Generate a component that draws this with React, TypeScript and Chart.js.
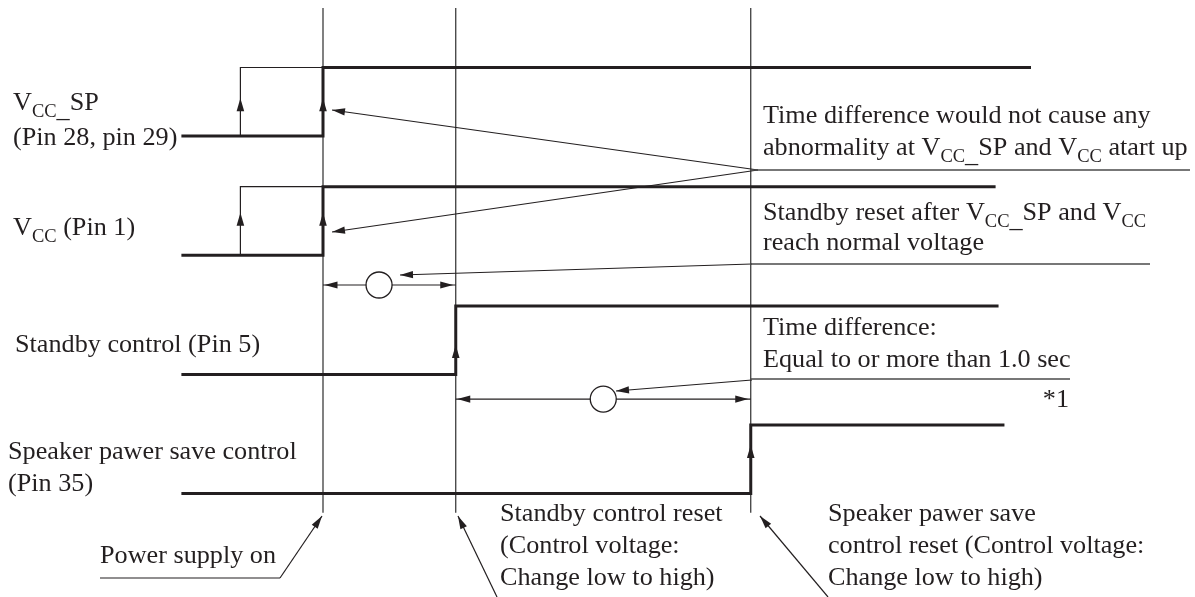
import React, { useEffect, useRef } from "react";
import { Chart, registerables } from "chart.js";

Chart.register(...registerables);

// ---------------- data (times in seconds, levels 0 = low, 1 = high) ----------------
const signalLabels: string[][] = [
  ["V{CC}[_]SP", "(Pin 28, pin 29)"],
  ["V{CC} (Pin 1)"],
  ["Standby control (Pin 5)"],
  ["Speaker pawer save control", "(Pin 35)"],
];
const startTime = -0.48;
const riseTimes = [0, 0, 0.45, 1.45];
const earlyRiseTimes: (number | null)[] = [-0.28, -0.28, null, null];
const endTimes = [2.4, 2.28, 2.29, 2.31];
const lowLevel = 0;
const highLevel = 1;
const markerTimes = [0, 0.45, 1.45];
const intervalStarts = [0, 0.45];
const intervalEnds = [0.45, 1.45];
const intervalCircleTimes = [0.19, 0.95];

const noteTexts: string[][] = [
  ["Time difference would not cause any", "abnormality at V{CC}[_]SP and V{CC} atart up"],
  ["Standby reset after V{CC}[_]SP and V{CC}", "reach normal voltage"],
  ["Time difference:", "Equal to or more than 1.0 sec"],
];
const footnoteText = "*1";
const eventTexts: string[][] = [
  ["Power supply on"],
  ["Standby control reset", "(Control voltage:", "Change low to high)"],
  ["Speaker pawer save", "control reset (Control voltage:", "Change low to high)"],
];

// ---------------- layout ----------------
const W = 1195;
const H = 597;
const PX_PER_SEC = 295;
const T0_PX = 323;
const PX_PER_LEVEL = 68.5;
const ROW0_LOW_PX = 136;
const ROW_GAP = 1.74;
const X_MIN = -T0_PX / PX_PER_SEC;
const X_MAX = (W - T0_PX) / PX_PER_SEC;
const Y_MAX = ROW0_LOW_PX / PX_PER_LEVEL;
const Y_MIN = Y_MAX - H / PX_PER_LEVEL;
const MARKER_TOP = 1.87;
const MARKER_BOTTOM = -5.5;
const INTERVAL_Y = [-2.175, -3.84];
const ARROW_FRAC = [0.55, 0.62, 0.43, 0.71];

const INK = "#231f20";
const THIN = "#2e2e2e";
const FONT = 26.2;
const SUB = 18.5;
const SUB_DY = 7;
const FAMILY = '"Liberation Serif", "Times New Roman", serif';

const signalLabelPos = [
  { x: 13, y: [110, 145] },
  { x: 13, y: [235] },
  { x: 15, y: [352] },
  { x: 8, y: [459, 491] },
];
const notePos = [
  { x: 763, y: [123, 155], line: [750, 1190, 170] },
  { x: 763, y: [220, 250], line: [750, 1150, 264] },
  { x: 763, y: [335, 367], line: [750, 1070, 379] },
];
const footnotePos = { x: 1069, y: 407 };
const eventPos = [
  { x: 100, y: [563] },
  { x: 500, y: [521, 553, 585] },
  { x: 828, y: [521, 553, 585] },
];
// leader lines: [fromX, fromY, tipX, tipY]
const leaders = [
  [758, 170, 332, 110],
  [758, 170, 332, 232],
  [752, 264, 400, 275],
  [752, 380, 616, 391],
  [280, 578, 322, 516],
  [497, 597, 458, 516],
  [828, 597, 760, 516],
];

type Seg = { t: string; size: number; dy: number };
function parseRich(text: string): Seg[] {
  const segs: Seg[] = [];
  const re = /\{([^}]*)\}|\[([^\]]*)\]|([^{\[]+)/g;
  let m: RegExpExecArray | null;
  while ((m = re.exec(text))) {
    if (m[1] !== undefined) segs.push({ t: m[1], size: SUB, dy: SUB_DY });
    else if (m[2] !== undefined) segs.push({ t: m[2], size: FONT, dy: SUB_DY });
    else segs.push({ t: m[3], size: FONT, dy: 0 });
  }
  return segs;
}
function richWidth(ctx: CanvasRenderingContext2D, text: string) {
  let w = 0;
  for (const s of parseRich(text)) {
    ctx.font = `${s.size}px ${FAMILY}`;
    w += ctx.measureText(s.t).width;
  }
  return w;
}
function drawRich(ctx: CanvasRenderingContext2D, text: string, x: number, y: number, align: "left" | "right" = "left") {
  let cx = align === "right" ? x - richWidth(ctx, text) : x;
  ctx.textAlign = "left";
  ctx.textBaseline = "alphabetic";
  ctx.fillStyle = INK;
  for (const s of parseRich(text)) {
    ctx.font = `${s.size}px ${FAMILY}`;
    ctx.fillText(s.t, cx, y + s.dy);
    cx += ctx.measureText(s.t).width;
  }
}
function arrowHead(ctx: CanvasRenderingContext2D, fx: number, fy: number, tx: number, ty: number, len = 13, half = 3.6) {
  const a = Math.atan2(ty - fy, tx - fx);
  const bx = tx - len * Math.cos(a);
  const by = ty - len * Math.sin(a);
  const px = -Math.sin(a) * half;
  const py = Math.cos(a) * half;
  ctx.beginPath();
  ctx.moveTo(tx, ty);
  ctx.lineTo(bx + px, by + py);
  ctx.lineTo(bx - px, by - py);
  ctx.closePath();
  ctx.fillStyle = INK;
  ctx.fill();
}

const annotationPlugin = {
  id: "timingAnnotations",
  afterDatasetsDraw(chart: any) {
    const ctx: CanvasRenderingContext2D = chart.ctx;
    const xs = chart.scales.x;
    const ys = chart.scales.y;
    ctx.save();
    // rise arrows
    riseTimes.forEach((tr, k) => {
      const base = -ROW_GAP * k;
      const tipY = ys.getPixelForValue(base + ARROW_FRAC[k]);
      const tipX = xs.getPixelForValue(tr);
      arrowHead(ctx, tipX, tipY + 20, tipX, tipY, 13, 3.8);
      const te = earlyRiseTimes[k];
      if (te !== null) {
        const ex = xs.getPixelForValue(te);
        arrowHead(ctx, ex, tipY + 20, ex, tipY, 13, 3.8);
      }
    });
    // interval double arrows
    intervalStarts.forEach((s, i) => {
      const y = ys.getPixelForValue(INTERVAL_Y[i]);
      const x1 = xs.getPixelForValue(s) + 1.5;
      const x2 = xs.getPixelForValue(intervalEnds[i]) - 2.5;
      arrowHead(ctx, x1 + 20, y, x1, y, 13, 3.6);
      arrowHead(ctx, x2 - 20, y, x2, y, 13, 3.6);
    });
    // leader lines
    ctx.strokeStyle = INK;
    ctx.lineWidth = 1.2;
    for (const [fx, fy, tx, ty] of leaders) {
      ctx.beginPath();
      ctx.moveTo(fx, fy);
      ctx.lineTo(tx, ty);
      ctx.stroke();
      arrowHead(ctx, fx, fy, tx, ty, 13, 3.6);
    }
    // power supply underline
    ctx.beginPath();
    ctx.moveTo(100, 578);
    ctx.lineTo(280, 578);
    ctx.stroke();
    // note underlines
    ctx.strokeStyle = "#4a4a4a";
    ctx.lineWidth = 1.6;
    for (const n of notePos) {
      ctx.beginPath();
      ctx.moveTo(n.line[0], n.line[2]);
      ctx.lineTo(n.line[1], n.line[2]);
      ctx.stroke();
    }
    // texts
    signalLabels.forEach((lines, k) => {
      lines.forEach((ln, j) => drawRich(ctx, ln, signalLabelPos[k].x, signalLabelPos[k].y[j]));
    });
    noteTexts.forEach((lines, k) => {
      lines.forEach((ln, j) => drawRich(ctx, ln, notePos[k].x, notePos[k].y[j]));
    });
    drawRich(ctx, footnoteText, footnotePos.x, footnotePos.y, "right");
    eventTexts.forEach((lines, k) => {
      lines.forEach((ln, j) => drawRich(ctx, ln, eventPos[k].x, eventPos[k].y[j]));
    });
    ctx.restore();
  },
};

export default function App() {
  const ref = useRef<HTMLCanvasElement>(null);
  useEffect(() => {
    const canvas = ref.current;
    if (!canvas) return;
    const line = (data: { x: number; y: number }[], width: number, color: string, order: number) => ({
      data,
      showLine: true,
      borderColor: color,
      borderWidth: width,
      pointRadius: 0,
      pointHoverRadius: 0,
      fill: false,
      tension: 0,
      borderJoinStyle: "miter",
      borderCapStyle: "butt",
      order,
    });
    const datasets: any[] = [];
    markerTimes.forEach((t) =>
      datasets.push(line([{ x: t, y: MARKER_TOP }, { x: t, y: MARKER_BOTTOM }], 1.2, THIN, 3))
    );
    riseTimes.forEach((tr, k) => {
      const base = -ROW_GAP * k;
      datasets.push(
        line(
          [
            { x: startTime, y: base + lowLevel },
            { x: tr, y: base + lowLevel },
            { x: tr, y: base + highLevel },
            { x: endTimes[k], y: base + highLevel },
          ],
          3,
          INK,
          1
        )
      );
      const te = earlyRiseTimes[k];
      if (te !== null) {
        datasets.push(
          line(
            [
              { x: te, y: base + lowLevel },
              { x: te, y: base + highLevel },
              { x: tr, y: base + highLevel },
            ],
            1.2,
            INK,
            2
          )
        );
      }
    });
    intervalStarts.forEach((s, i) =>
      datasets.push(line([{ x: s, y: INTERVAL_Y[i] }, { x: intervalEnds[i], y: INTERVAL_Y[i] }], 1.2, INK, 2))
    );
    datasets.push({
      data: intervalCircleTimes.map((t, i) => ({ x: t, y: INTERVAL_Y[i] })),
      showLine: false,
      pointRadius: 13,
      pointHoverRadius: 13,
      pointStyle: "circle",
      pointBorderWidth: 1.3,
      pointBorderColor: INK,
      pointBackgroundColor: "#ffffff",
      order: 0,
    });

    const chart = new Chart(canvas, {
      type: "scatter",
      data: { datasets },
      options: {
        animation: false,
        responsive: false,
        events: [],
        layout: { padding: 0, autoPadding: false },
        plugins: { legend: { display: false }, tooltip: { enabled: false } },
        scales: {
          x: { type: "linear", display: false, min: X_MIN, max: X_MAX, bounds: "data" },
          y: { type: "linear", display: false, min: Y_MIN, max: Y_MAX, bounds: "data" },
        },
      } as any,
      plugins: [annotationPlugin],
    });
    return () => chart.destroy();
  }, []);
  return (
    <div style={{ position: "fixed", left: 0, top: 0, width: W, height: H, background: "#ffffff" }}>
      <canvas ref={ref} width={W} height={H} style={{ display: "block", width: W, height: H }} />
    </div>
  );
}
